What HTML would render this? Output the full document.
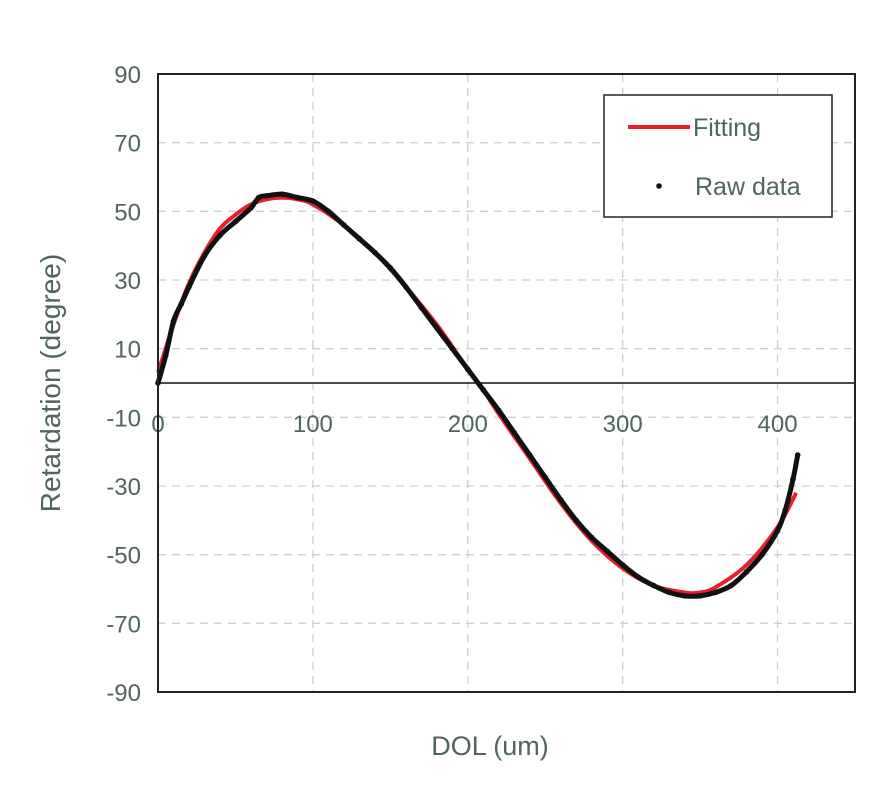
<!DOCTYPE html>
<html><head><meta charset="utf-8"><style>
html,body{margin:0;padding:0;background:#fff;}
svg text{font-family:"Liberation Sans",sans-serif;fill:#4f6560;}
</style></head><body>
<svg id="chart" width="895" height="788" viewBox="0 0 895 788">
<g id="grid"></g>
<g id="ticks"></g>
<g id="series"></g>
<rect x="158" y="74" width="697" height="618" fill="none" stroke="#222" stroke-width="2"/>
<text x="60" y="383" font-size="28" text-anchor="middle" transform="rotate(-90 60 383)">Retardation (degree)</text>
<text x="490" y="755" font-size="27" text-anchor="middle">DOL (um)</text>
<g>
<rect x="604" y="95" width="228" height="122" fill="#fff" stroke="#222" stroke-width="1.5"/>
<line x1="628" y1="127" x2="690" y2="127" stroke="#e8202e" stroke-width="4"/>
<text x="693" y="136" font-size="25">Fitting</text>
<circle cx="659" cy="186" r="2.8" fill="#111"/>
<text x="695" y="195" font-size="25">Raw data</text>
</g>
</svg>
<script>
const xTicks=[0,100,200,300,400];
const yTicks=[90,70,50,30,10,-10,-30,-50,-70,-90];
const fitX=[0,10,20,30,40,50,60,70,80,90,100,120,140,160,180,200,210,220,240,260,280,300,320,340,350,360,380,400,412];
const fitY=[3,17,29,38,45,49,52,53.5,54,53.5,52,46,38,28,17,4,-2,-9,-22,-35,-46,-54,-59,-61,-61,-59.5,-53,-42,-32];
const rawX=[0,5,10,15,20,30,40,50,60,65,70,80,90,100,110,120,130,140,150,160,170,180,190,200,210,220,230,240,250,260,270,280,290,300,310,320,330,340,350,360,370,380,390,400,405,410,413];
const rawY=[0,8,18,23,28,37,43,47,51,54,54.5,55,54,53,50,46,42,38,33.5,28,22,16,10,4,-2,-8,-14.5,-21,-27.5,-34,-40,-45,-49,-53,-56.5,-59,-61,-62,-62,-61,-59,-55,-50,-43,-37,-28,-21];
const X0=158,X1=855,Y0=692,Y1=74;
function sx(v){return X0+(v-0)/450*(X1-X0);}
function sy(v){return Y0-(v+90)/180*(Y0-Y1);}
const NS="http://www.w3.org/2000/svg";
const grid=document.getElementById('grid'),ticks=document.getElementById('ticks'),series=document.getElementById('series');
function mk(tag,attrs,parent){const e=document.createElementNS(NS,tag);for(const k in attrs)e.setAttribute(k,attrs[k]);parent.appendChild(e);return e;}
function smooth(xs,ys){
  const p=xs.map((v,i)=>[sx(v),sy(ys[i])]);
  let d='M'+p[0][0]+','+p[0][1];
  for(let i=0;i<p.length-1;i++){
    const a=p[i-1]||p[i],b=p[i],c=p[i+1],e=p[i+2]||c;
    d+=' C'+(b[0]+(c[0]-a[0])/6)+','+(b[1]+(c[1]-a[1])/6)+' '+(c[0]-(e[0]-b[0])/6)+','+(c[1]-(e[1]-b[1])/6)+' '+c[0]+','+c[1];
  }
  return d;
}
xTicks.forEach(t=>{
  if(t>0){const l=mk('line',{x1:sx(t),x2:sx(t),y1:Y1,y2:Y0,stroke:'#c8d2d2','stroke-width':1.3,'stroke-dasharray':'8,6'},grid);
  
  }
  const tx=mk('text',{x:sx(t),y:sy(0)+49,'font-size':24,'text-anchor':'middle'},ticks);
  tx.textContent=t;
  
  
});
yTicks.forEach(t=>{
  if(t<90&&t>-90){const l=mk('line',{x1:X0,x2:X1,y1:sy(t),y2:sy(t),stroke:'#c8d2d2','stroke-width':1.3,'stroke-dasharray':'8,6'},grid);
  
  }
  const tx=mk('text',{x:141,y:sy(t)+9,'font-size':24,'text-anchor':'end'},ticks);
  tx.textContent=t;
  
  
});
const z=mk('line',{x1:X0,x2:X1,y1:sy(0),y2:sy(0),stroke:'#111','stroke-width':1.5},grid);


const fit=mk('path',{d:smooth(fitX,fitY),fill:'none',stroke:'#e8202e','stroke-width':4,'stroke-linejoin':'round'},series);


const raw=mk('path',{d:smooth(rawX,rawY),fill:'none',stroke:'#111','stroke-width':5,'stroke-linejoin':'round'},series);


rawX.forEach((v,i)=>{
  const c=mk('circle',{cx:sx(v),cy:sy(rawY[i]),r:2.8,fill:'#111'},series);
  
  
});
</script>
</body></html>
